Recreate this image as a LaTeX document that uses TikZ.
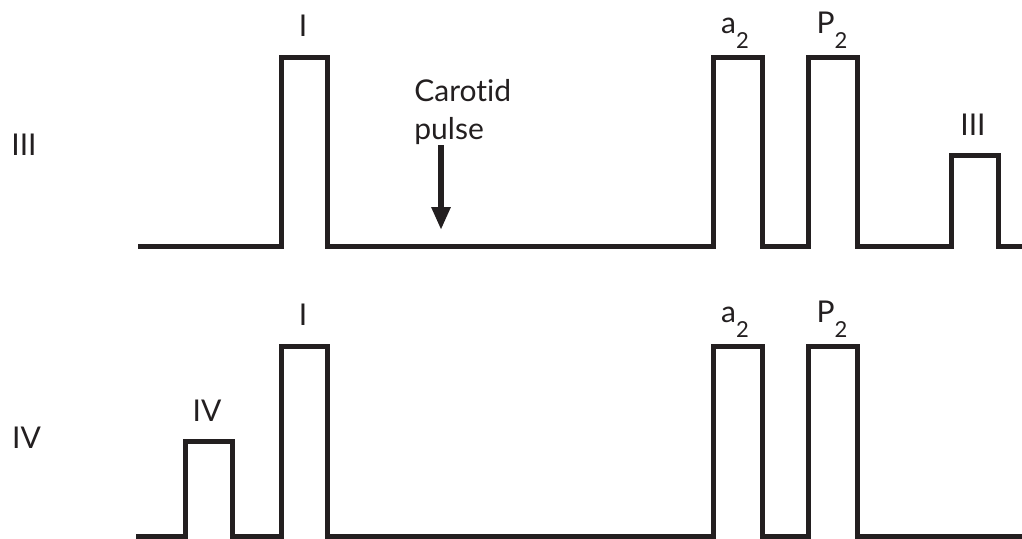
\documentclass[tikz,border=0pt]{standalone}
\usepackage{fontspec}
\setmainfont{Lato}
\usepackage{tikz}
\usetikzlibrary{arrows.meta}
\definecolor{traceink}{HTML}{231F20}
\newcommand{\lowsub}[1]{\raisebox{-7.5pt}{\fontsize{11}{12}\selectfont #1}}

\begin{document}
\begin{tikzpicture}[x=0.5pt,y=-0.5pt,
    trace/.style={line width=2.5pt,traceink,line join=miter},
    lbl/.style={font=\fontsize{15}{18}\selectfont,text=traceink,inner sep=0pt,anchor=base},
    pulsearrow/.style={line width=3pt,traceink,-{Triangle[length=11.5pt,width=9pt]}}]
    \useasboundingbox (0,0) rectangle (1022,538);
    % --- traza superior: tercer ruido ---
    \node[lbl] (rowIII) at (24,155) {III};
    \draw[trace] (138,246.5) -| (281,57.5) -| (327,246.5) -| (713,57.5) -| (762,246.5)
      -| (808,57.5) -| (857,246.5) -| (951,155.5) -| (998,246.5) -- (1022,246.5);
    \node[lbl] (firstA) at (303,36) {I};
    \node[lbl] (atwoA) at (735,33) {a\lowsub{2}};
    \node[lbl] (ptwoA) at (832,33) {P\lowsub{2}};
    \node[lbl] (third) at (973,135) {III};
    % pulso carotideo
    \node[lbl,anchor=base west] (carotid) at (414,101.7) {Carot\kern0pt id};
    \node[lbl,anchor=base west] (pulse) at (414,139.7) {pulse};
    \coordinate (tip) at (441,230);
    \draw[pulsearrow] (pulse.south -| tip) -- (tip);
    % --- traza inferior: cuarto ruido ---
    \node[lbl] (rowIV) at (26.5,448) {IV};
    \draw[trace] (136,536) -| (185,441) -| (232,536) -| (281,346.5) -| (327,536)
      -| (713,346.5) -| (762,536) -| (808,346.5) -| (857,536) -- (1022,536);
    \node[lbl] (fourth) at (207,421.7) {IV};
    \node[lbl] (firstB) at (303,325) {I};
    \node[lbl] (atwoB) at (735,322.5) {a\lowsub{2}};
    \node[lbl] (ptwoB) at (832,322.5) {P\lowsub{2}};
\end{tikzpicture}
\end{document}
